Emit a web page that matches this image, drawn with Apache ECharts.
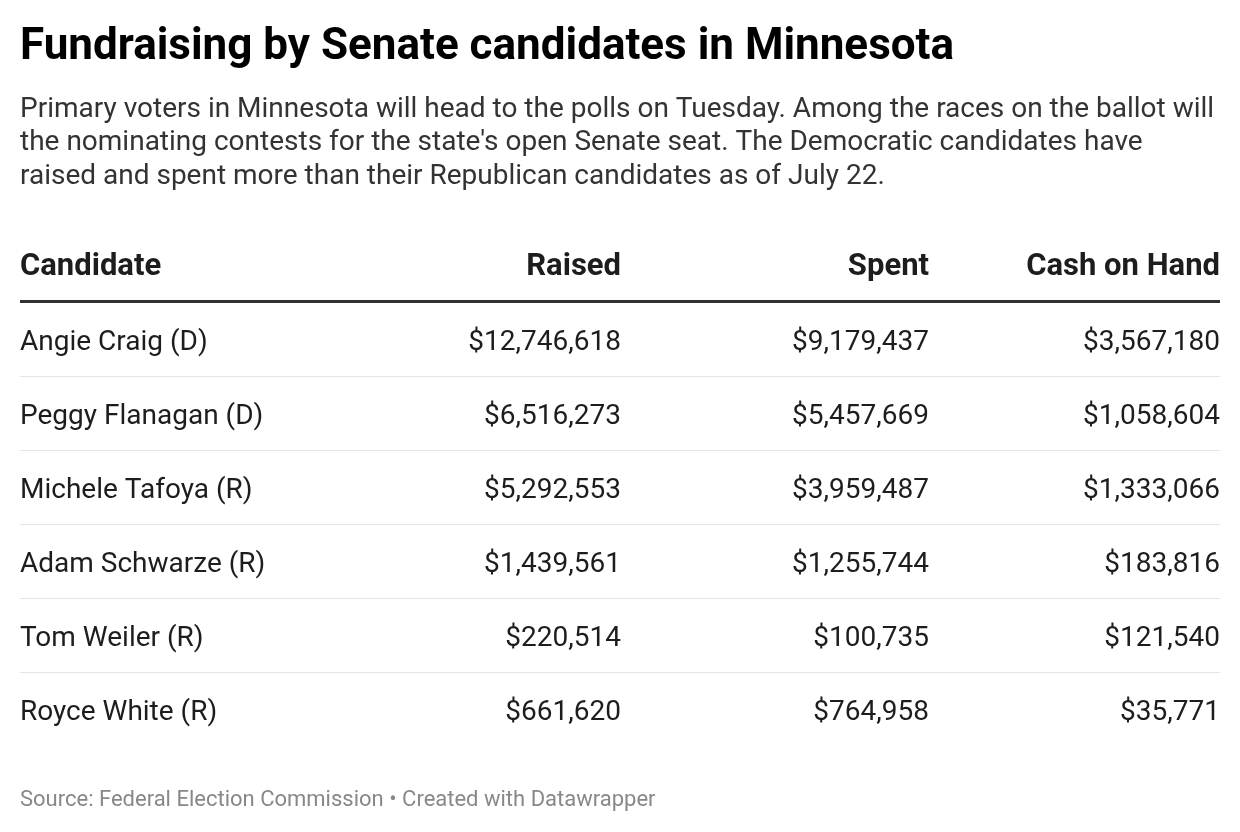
<!DOCTYPE html>
<html>
<head>
<meta charset="utf-8">
<script src="https://cdn.jsdelivr.net/npm/echarts@6/dist/echarts.min.js"></script>
<style>
  html, body { margin: 0; padding: 0; background: #fff; }
  #chart { width: 1240px; height: 832px; }
</style>
</head>
<body>
<div id="chart"></div>
<script>
// table data
const columns = ['Candidate', 'Raised', 'Spent', 'Cash on Hand']
const candidates = ['Angie Craig (D)', 'Peggy Flanagan (D)', 'Michele Tafoya (R)', 'Adam Schwarze (R)', 'Tom Weiler (R)', 'Royce White (R)']
const raised = [12746618, 6516273, 5292553, 1439561, 220514, 661620]
const spent = [9179437, 5457669, 3959487, 1255744, 100735, 764958]
const cashOnHand = [3567180, 1058604, 1333066, 183816, 121540, 35771]

const titleText = 'Fundraising by Senate candidates in Minnesota'
const subtitleText = "Primary voters in Minnesota will head to the polls on Tuesday. Among the races on the ballot will\nthe nominating contests for the state's open Senate seat. The Democratic candidates have\nraised and spent more than their Republican candidates as of July 22."
const sourceText = 'Source: Federal Election Commission \u2022 Created with Datawrapper'

const fmt = (v) => '$' + v.toLocaleString('en-US')

// x anchors of each column inside the grid (left aligned first, rest right aligned)
const colX = [0, 600, 908, 1199]
const colAlign = ['left', 'right', 'right', 'right']
const font = 'Roboto'

const myChart = echarts.init(document.getElementById('chart'))

const rowData = candidates.map((name, i) => [i, name, fmt(raised[i]), fmt(spent[i]), fmt(cashOnHand[i])])

const options = {
    backgroundColor: '#fff',
    animation: false,
    title: [
        {
            text: titleText,
            left: 20, top: 26, padding: 0,
            textStyle: { fontFamily: font, fontSize: 44, fontWeight: 'bold', color: '#000' }
        },
        {
            text: subtitleText,
            left: 20, top: 93, padding: 0,
            textStyle: { fontFamily: font, fontSize: 28, fontWeight: 'normal', color: '#333', lineHeight: 33.5 }
        },
        {
            text: sourceText,
            left: 20, top: 789, padding: 0,
            textStyle: { fontFamily: font, fontSize: 22, fontWeight: 'normal', color: '#888' }
        }
    ],
    grid: { left: 20, right: 20, top: 303, height: 444 },
    xAxis: { type: 'value', min: 0, max: 1200, show: false },
    yAxis: { type: 'category', data: candidates, inverse: true, show: false },
    graphic: columns.map((c, j) => ({
        type: 'text',
        left: colAlign[j] === 'left' ? 20 + colX[j] : null,
        right: colAlign[j] === 'right' ? 1240 - (20 + colX[j] + 1) : null,
        top: 252,
        style: { text: c, fontFamily: font, fontSize: 31, fontWeight: 'bold', fill: '#1d1d1d' }
    })).concat([{
        type: 'rect',
        shape: { x: 20, y: 300, width: 1200, height: 3 },
        style: { fill: '#333' }
    }]),
    series: [{
        type: 'custom',
        data: rowData,
        encode: { y: 0 },
        renderItem: (params, api) => {
            const idx = api.value(0)
            const center = api.coord([0, idx])
            const band = api.size([0, 1])[1]
            const x0 = params.coordSys.x
            const w = params.coordSys.width
            const children = []
            for (let j = 0; j < 4; j++) {
                children.push({
                    type: 'text',
                    style: {
                        x: x0 + colX[j] + (j > 0 ? 1 : 0),
                        y: center[1] + 3,
                        text: rowData[idx][j + 1],
                        textAlign: colAlign[j],
                        textVerticalAlign: 'middle',
                        fontFamily: font,
                        fontSize: 28,
                        fill: '#1d1d1d'
                    }
                })
            }
            if (idx < candidates.length - 1) {
                children.push({
                    type: 'rect',
                    shape: { x: x0, y: center[1] + band / 2 - 1, width: w, height: 1 },
                    style: { fill: '#e5e5e5' }
                })
            }
            return { type: 'group', children }
        }
    }]
}
myChart.setOption(options)
</script>
</body>
</html>
